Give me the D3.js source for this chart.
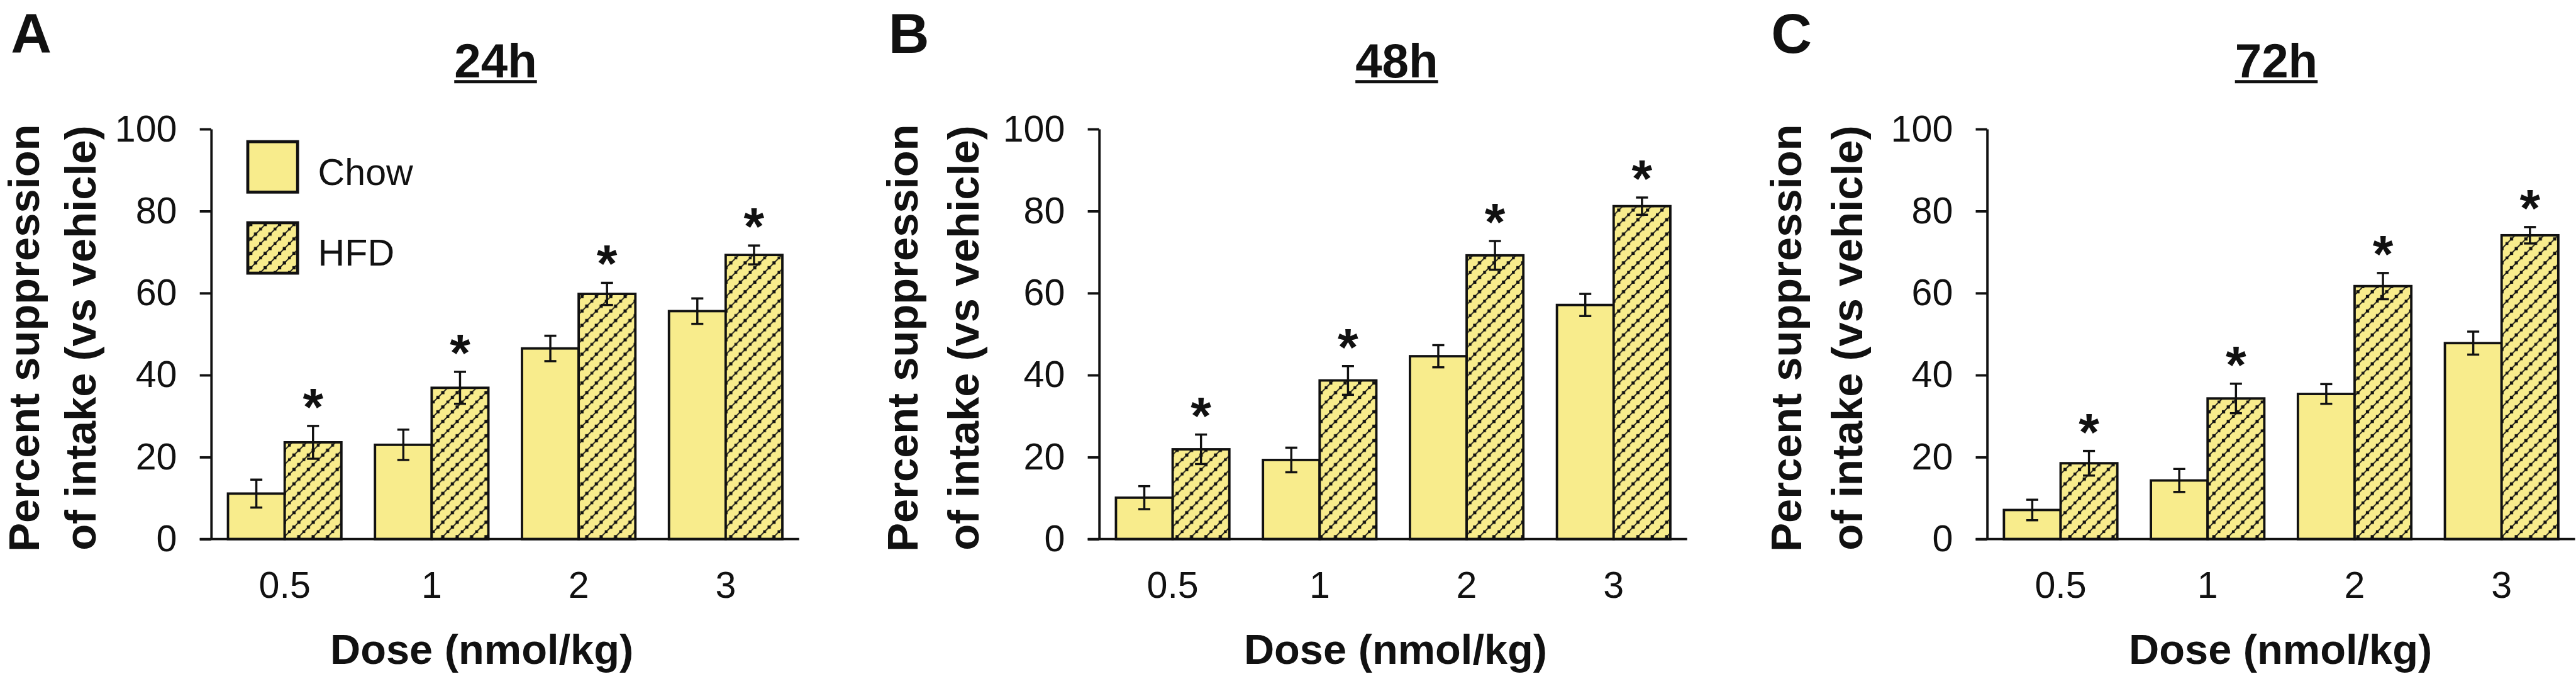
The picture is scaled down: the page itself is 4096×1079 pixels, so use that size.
<!DOCTYPE html>
<html>
<head>
<meta charset="utf-8">
<script src="https://cdn.jsdelivr.net/npm/d3@7"></script>
<style>
  html, body { margin: 0; padding: 0; background: #ffffff; }
  svg { display: block; }
</style>
</head>
<body>
<svg id="chart" width="4096" height="1079"></svg>
<script>
// ---------------- data ----------------
const doses = ["0.5", "1", "2", "3"];
const panelLetters = ["A", "B", "C"];
const panelTitles = ["24h", "48h", "72h"];
const seriesNames = ["Chow", "HFD"];
const yTicks = [0, 20, 40, 60, 80, 100];

const chow24 = [11.1, 23.0, 46.5, 55.6];
const chow24Err = [3.4, 3.7, 3.1, 3.1];
const hfd24 = [23.6, 36.9, 59.8, 69.3];
const hfd24Err = [4.0, 3.9, 2.7, 2.3];

const chow48 = [10.1, 19.3, 44.6, 57.1];
const chow48Err = [2.8, 3.0, 2.7, 2.7];
const hfd48 = [21.9, 38.7, 69.2, 81.2];
const hfd48Err = [3.6, 3.5, 3.5, 2.1];

const chow72 = [7.1, 14.3, 35.4, 47.8];
const chow72Err = [2.5, 2.8, 2.4, 2.8];
const hfd72 = [18.5, 34.3, 61.7, 74.1];
const hfd72Err = [3.0, 3.6, 3.2, 2.0];

const hfdSignificant = [true, true, true, true];

const yTitleLines = ["Percent suppression", "of intake (vs vehicle)"];
const xTitle = "Dose (nmol/kg)";

// ---------------- layout (reference pixel units) ----------------
const S = 0.954;
const FONT = "'Liberation Sans', Arial, Helvetica, sans-serif";
const YELLOW = "#F8EC8C";
const INK = "#111111";
const axisX = [352, 1832, 3312];
const plotW = 980;
const yTop = 215, yBottom = 898;
const titleX = [826, 2328, 3794];
const letterX = [18, 1481, 2952];
const xTitleX = [803, 2326, 3801];
const yTitleOff = [[-287, -193], [-303, -201], [-310, -208]];

const panelsData = [
  { chow: chow24, chowErr: chow24Err, hfd: hfd24, hfdErr: hfd24Err },
  { chow: chow48, chowErr: chow48Err, hfd: hfd48, hfdErr: hfd48Err },
  { chow: chow72, chowErr: chow72Err, hfd: hfd72, hfdErr: hfd72Err }
];

const svg = d3.select("#chart");
const defs = svg.append("defs");

// hatch pattern: dotted upward diagonal lines on yellow
const T = 24;
const pat = defs.append("pattern")
  .attr("id", "hatch")
  .attr("patternUnits", "userSpaceOnUse")
  .attr("width", T).attr("height", T);
pat.append("rect").attr("width", T).attr("height", T).attr("fill", YELLOW);
[[-6, T + 6, T + 6, -6], [-6, 6, 6, -6], [T - 6, T + 6, T + 6, T - 6]].forEach(l => {
  pat.append("line")
    .attr("x1", l[0]).attr("y1", l[1]).attr("x2", l[2]).attr("y2", l[3])
    .attr("stroke", INK).attr("stroke-width", 1.8);
});
// square dots along the diagonal x + y = T (mod T)
[[2, 22], [10, 14], [18, 6], [26, -2], [-6, 30]].forEach(p => {
  pat.append("rect")
    .attr("x", p[0] - 2.7).attr("y", p[1] - 2.7)
    .attr("width", 5.4).attr("height", 5.4)
    .attr("fill", INK);
});

const root = svg.append("g").attr("transform", `scale(${S})`);

const y = d3.scaleLinear().domain([0, 100]).range([yBottom, yTop]);

panelsData.forEach((pd, pi) => {
  const ax = axisX[pi];
  const g = root.append("g");

  const x0 = d3.scaleBand().domain(doses)
    .range([ax, ax + plotW])
    .paddingInner(0.2286).paddingOuter(0.1143);
  const x1 = d3.scaleBand().domain(seriesNames).range([0, x0.bandwidth()]);

  // panel letter
  g.append("text").attr("x", letterX[pi]).attr("y", 88)
    .attr("font-family", FONT).attr("font-weight", "bold")
    .attr("font-size", 94).attr("fill", INK).text(panelLetters[pi]);

  // title underlined
  const t = g.append("text").attr("x", titleX[pi]).attr("y", 129)
    .attr("text-anchor", "middle")
    .attr("font-family", FONT).attr("font-weight", "bold")
    .attr("font-size", 80).attr("fill", INK).text(panelTitles[pi]);
  const tw = t.node().getComputedTextLength();
  g.append("line")
    .attr("x1", titleX[pi] - tw / 2).attr("x2", titleX[pi] + tw / 2)
    .attr("y1", 136).attr("y2", 136)
    .attr("stroke", INK).attr("stroke-width", 5);

  // bars
  const rows = doses.map((d, i) => [
    { dose: d, s: "Chow", v: pd.chow[i], e: pd.chowErr[i], sig: false },
    { dose: d, s: "HFD", v: pd.hfd[i], e: pd.hfdErr[i], sig: hfdSignificant[i] }
  ]).flat();

  g.selectAll("rect.bar").data(rows).enter().append("rect")
    .attr("class", "bar")
    .attr("x", d => x0(d.dose) + x1(d.s))
    .attr("y", d => y(d.v))
    .attr("width", x1.bandwidth())
    .attr("height", d => y(0) - y(d.v))
    .attr("fill", d => d.s === "Chow" ? YELLOW : "url(#hatch)")
    .attr("stroke", INK).attr("stroke-width", 4);

  // error bars
  const cx = d => x0(d.dose) + x1(d.s) + x1.bandwidth() / 2;
  const eb = g.selectAll("g.err").data(rows).enter().append("g").attr("class", "err")
    .attr("stroke", INK).attr("stroke-width", 3.6);
  eb.append("line").attr("x1", cx).attr("x2", cx)
    .attr("y1", d => y(d.v - d.e)).attr("y2", d => y(d.v + d.e));
  eb.append("line").attr("x1", d => cx(d) - 10).attr("x2", d => cx(d) + 10)
    .attr("y1", d => y(d.v + d.e)).attr("y2", d => y(d.v + d.e));
  eb.append("line").attr("x1", d => cx(d) - 10).attr("x2", d => cx(d) + 10)
    .attr("y1", d => y(d.v - d.e)).attr("y2", d => y(d.v - d.e));

  // significance asterisks
  g.selectAll("text.sig").data(rows.filter(d => d.sig)).enter().append("text")
    .attr("class", "sig")
    .attr("x", cx).attr("y", d => y(d.v + d.e) - 1)
    .attr("text-anchor", "middle")
    .attr("font-family", FONT).attr("font-weight", "bold")
    .attr("font-size", 88).attr("fill", INK).text("*");

  // y axis
  const yAxis = d3.axisLeft(y).tickValues(yTicks).tickSize(19).tickSizeOuter(0).tickPadding(38);
  const ya = g.append("g").attr("transform", `translate(${ax},0)`).call(yAxis);
  ya.select(".domain").attr("stroke", INK).attr("stroke-width", 4);
  ya.selectAll(".tick line").attr("stroke", INK).attr("stroke-width", 4);
  ya.selectAll(".tick text").attr("font-family", FONT).attr("font-size", 62)
    .attr("fill", INK).attr("dy", "0.32em");

  // x axis
  const xAxis = d3.axisBottom(x0).tickSize(0).tickSizeOuter(0).tickPadding(54);
  const xa = g.append("g").attr("transform", `translate(0,${yBottom})`).call(xAxis);
  xa.select(".domain").attr("stroke", INK).attr("stroke-width", 4)
    .attr("d", `M${ax - 19},0H${ax + plotW}`);
  xa.selectAll(".tick text").attr("font-family", FONT).attr("font-size", 62)
    .attr("fill", INK);

  // axis titles
  g.append("text").attr("x", xTitleX[pi]).attr("y", 1106)
    .attr("text-anchor", "middle")
    .attr("font-family", FONT).attr("font-weight", "bold")
    .attr("font-size", 70).attr("fill", INK).text(xTitle);

  yTitleLines.forEach((line, li) => {
    const bx = ax + yTitleOff[pi][li];
    g.append("text")
      .attr("transform", `translate(${bx},563) rotate(-90)`)
      .attr("text-anchor", "middle")
      .attr("font-family", FONT).attr("font-weight", "bold")
      .attr("font-size", 72).attr("fill", INK).text(line);
  });

  // legend (panel A only)
  if (pi === 0) {
    const lg = g.append("g");
    const items = [
      { name: "Chow", fill: YELLOW, y0: 234, ty: 308 },
      { name: "HFD", fill: "url(#hatch)", y0: 369, ty: 442 }
    ];
    items.forEach(it => {
      lg.append("rect").attr("x", 413).attr("y", it.y0 + 2)
        .attr("width", 83).attr("height", 84)
        .attr("fill", it.fill).attr("stroke", INK).attr("stroke-width", 5);
      lg.append("text").attr("x", 530).attr("y", it.ty)
        .attr("font-family", FONT).attr("font-size", 62)
        .attr("fill", INK).text(it.name);
    });
  }
});
</script>
</body>
</html>
